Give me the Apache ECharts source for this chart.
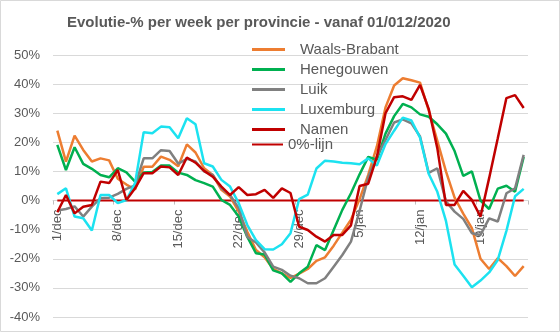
<!DOCTYPE html>
<html>
<head>
<meta charset="utf-8">
<script src="https://cdn.jsdelivr.net/npm/echarts@6/dist/echarts.min.js"></script>
<style>
html,body{margin:0;padding:0;background:#fff;}
#chart{width:560px;height:332px;}
</style>
</head>
<body>
<div id="chart"></div>
<script>
const categories = ["1/dec","2/dec","3/dec","4/dec","5/dec","6/dec","7/dec","8/dec","9/dec","10/dec",
"11/dec","12/dec","13/dec","14/dec","15/dec","16/dec","17/dec","18/dec","19/dec","20/dec",
"21/dec","22/dec","23/dec","24/dec","25/dec","26/dec","27/dec","28/dec","29/dec","30/dec",
"31/dec","1/jan","2/jan","3/jan","4/jan","5/jan","6/jan","7/jan","8/jan","9/jan",
"10/jan","11/jan","12/jan","13/jan","14/jan","15/jan","16/jan","17/jan","18/jan","19/jan",
"20/jan","21/jan","22/jan","23/jan","24/jan"];

const waalsBrabant = [24,13.4,22.3,17.4,13.4,14.5,13.8,7.5,5.5,3.8,
11.6,11.6,15.1,14,11.8,19.3,16.5,11.1,8.8,3.7,
1.4,-3.8,-10.7,-17,-19.5,-23.5,-25,-26.6,-25.1,-23.5,
-20.7,-19.5,-15.5,-11,-6.6,0.5,8.8,18.6,32,39.5,
42,41.3,40.5,31,20.5,10,1,-4.5,-9.5,-20,
-23.5,-19.8,-22.5,-25.9,-22.5];

const henegouwen = [19.1,10.5,18.3,12.6,10.9,8.8,8,11.1,9.7,6.5,
9.6,9.8,12,12,9.6,8.8,7,6,4.8,0.2,
-1.5,-5.5,-12.5,-18.1,-18.5,-24,-25,-27.9,-25,-22.7,
-15.3,-17,-10.1,-3.2,2.5,9,15,14,23,29,
33.2,32,29.6,28.8,26.2,23,17,8.5,10,0,
-2.9,4.1,5.1,3,15];

const luik = [-3.4,-2.9,-2,-5.5,-2.1,0.8,1,2.3,4,5.2,
14.5,14.5,17.3,17,12.7,14.3,13.4,10,8.8,4.2,
1.9,-2.6,-12.5,-14.4,-17.8,-22.7,-23.8,-25.8,-26.7,-28.4,
-28.4,-26.7,-22.7,-18.7,-14.1,-3.5,8,15.1,20.8,26.8,
27.9,26.5,22,9.5,11.1,-0.3,-3.8,-6.3,-11.2,-11.8,
-6.1,-7.2,2.5,4.2,15.7];

const luxemburg = [2.2,4.2,-5.5,-6.1,-10.3,1.9,1.9,-0.9,0.2,6,
23.5,23.1,25.4,25.2,21.4,28.3,26.2,12.8,11.7,7.1,
4.8,-0.9,-8.4,-13.6,-16.7,-16.8,-15,-11.2,0.5,2,
11,13.7,13.4,13,12.8,12.5,14.5,12,19.4,24,
28.5,27.5,21.6,9.2,3,-7,-22,-25.8,-29.8,-27.5,
-24.7,-20.4,-10.4,1.5,4];

const namen = [-4,1.9,-4.4,-2.1,-1.5,6.5,6,10.5,0.2,4.2,
9.4,9.4,11.7,11.4,8.8,14.8,13,10.2,8.2,4.8,
1.9,4.6,1.9,2.2,3.7,0.9,4.2,2.6,-9,-10.1,
-12.4,-14.1,-11.8,-11.8,-8.5,5,5.8,15,30,35.5,
35.8,34.6,39.7,31.5,18,-1.5,-1.5,3.3,0.2,-5.5,
7.7,21.4,35.2,36.2,31.8];

const nulLijn = categories.map(() => 0);

const yTicks = {min: -40, max: 50, interval: 10};

const seriesDefs = [
  {name: 'Waals-Brabant', data: waalsBrabant, color: '#ED7D31', width: 2.5},
  {name: 'Henegouwen', data: henegouwen, color: '#00B050', width: 2.5},
  {name: 'Luik', data: luik, color: '#808080', width: 2.5},
  {name: 'Luxemburg', data: luxemburg, color: '#1CE2F0', width: 2.5},
  {name: 'Namen', data: namen, color: '#C00000', width: 2.5},
  {name: '0%-lijn', data: nulLijn, color: '#C00000', width: 2}
];

const gridTop = 55, gridBottom = 15, chartH = 332;
const plotH = chartH - gridTop - gridBottom;
const zeroOffset = plotH * (0 - yTicks.min) / (yTicks.max - yTicks.min);

const chart = echarts.init(document.getElementById('chart'), null, {renderer: 'canvas'});
const txt = '#595959';
const legendText = {fontFamily: 'Liberation Sans', fontSize: 15, color: txt, lineHeight: 14};
chart.setOption({
  animation: false,
  backgroundColor: '#fff',
  title: {
    text: 'Evolutie-% per week per provincie - vanaf 01/012/2020',
    left: 67, top: 15, padding: 0,
    textStyle: {fontFamily: 'Liberation Sans', fontSize: 15, fontWeight: 'bold', color: txt}
  },
  legend: [{
    data: ['Waals-Brabant','Henegouwen','Luik','Luxemburg','Namen'],
    orient: 'vertical', left: 252, top: 42, padding: 0,
    icon: 'rect', itemWidth: 33, itemHeight: 3, itemGap: 5,
    textStyle: Object.assign({}, legendText, {padding: [0,0,0,10]})
  }, {
    data: ['0%-lijn'],
    orient: 'vertical', left: 252, top: 137, padding: 0,
    icon: 'rect', itemWidth: 31, itemHeight: 2,
    textStyle: legendText
  }],
  grid: {left: 53, right: 32, top: gridTop, bottom: gridBottom},
  xAxis: {
    type: 'category',
    data: categories,
    boundaryGap: true,
    offset: -zeroOffset,
    axisLine: {onZero: false, lineStyle: {color: '#d9d9d9'}},
    axisTick: {show: true, interval: 6, length: 4, lineStyle: {color: '#bfbfbf'}},
    axisLabel: {interval: 6, rotate: 90, margin: 9, padding: [6,0,0,0], fontFamily: 'Liberation Sans', fontSize: 13, color: txt},
    splitLine: {show: false}
  },
  yAxis: {
    type: 'value',
    min: yTicks.min, max: yTicks.max, interval: yTicks.interval,
    axisLine: {show: false},
    axisTick: {show: false},
    axisLabel: {formatter: '{value}%', margin: 13, fontFamily: 'Liberation Sans', fontSize: 13, color: txt},
    splitLine: {lineStyle: {color: '#d9d9d9', width: 1}}
  },
  series: seriesDefs.map(s => ({
    name: s.name, type: 'line', data: s.data,
    symbol: 'none', showSymbol: false,
    itemStyle: {color: s.color},
    lineStyle: {color: s.color, width: s.width},
    z: s.name === '0%-lijn' ? 1 : 2
  })),
  graphic: [{
    type: 'rect', shape: {x: 0.5, y: 0.5, width: 559, height: 331},
    style: {fill: 'none', stroke: '#d9d9d9', lineWidth: 1}, silent: true
  }]
});
</script>
</body>
</html>
